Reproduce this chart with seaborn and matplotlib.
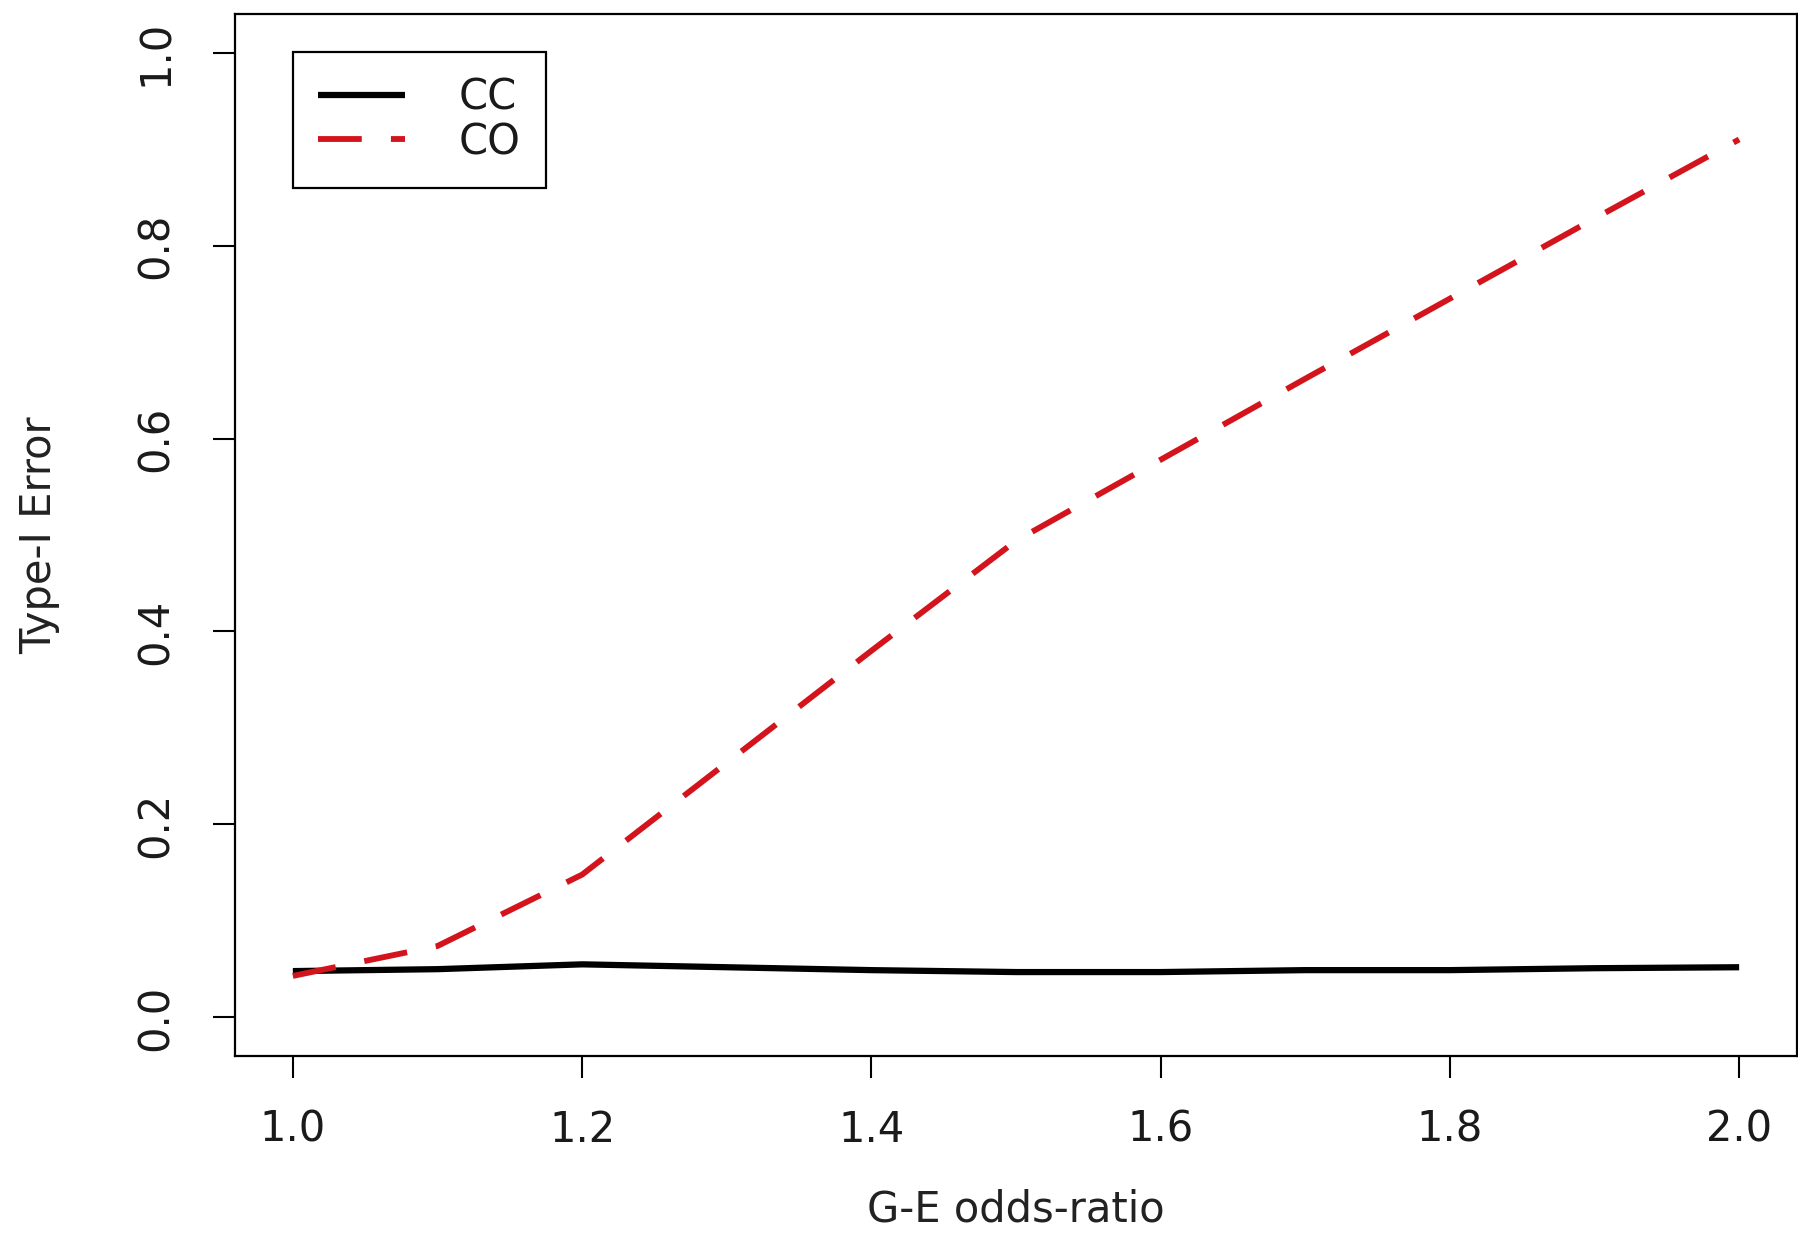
import matplotlib
matplotlib.use("Agg")
import matplotlib.pyplot as plt
import seaborn as sns
import pandas as pd

# ---- data ----
odds_ratio = [1.0, 1.1, 1.2, 1.3, 1.4, 1.5, 1.6, 1.7, 1.8, 1.9, 2.0]
cc_error = [0.048, 0.050, 0.055, 0.052, 0.049, 0.047, 0.047, 0.049, 0.049, 0.051, 0.052]
co_error = [0.043, 0.074, 0.148, 0.264, 0.380, 0.494, 0.578, 0.662, 0.745, 0.828, 0.910]
x_ticks = [1.0, 1.2, 1.4, 1.6, 1.8, 2.0]
y_ticks = [0.0, 0.2, 0.4, 0.6, 0.8, 1.0]
series_names = ["CC", "CO"]

sns.set_style("white")
plt.rcParams["font.family"] = ["DejaVu Sans"]

W, H, DPI = 1799, 1235, 100
fig = plt.figure(figsize=(W / DPI, H / DPI), dpi=DPI)
ax = fig.add_axes([235 / W, (H - 1056) / H, (1797 - 235) / W, (1056 - 14) / H])

df_cc = pd.DataFrame({"x": odds_ratio, "y": cc_error})
df_co = pd.DataFrame({"x": odds_ratio, "y": co_error})

sns.lineplot(data=df_cc, x="x", y="y", ax=ax, color="black", lw=4.5,
             estimator=None, label=series_names[0], solid_capstyle="butt")
sns.lineplot(data=df_co, x="x", y="y", ax=ax, color="#d3141c", lw=4.2,
             estimator=None, label=series_names[1],
             linestyle=(0, (7.5, 5.0)), dash_capstyle="butt")

ax.set_xlim(0.96, 2.04)
ax.set_ylim(-0.04, 1.04)
ax.set_xticks(x_ticks)
ax.set_xticklabels([f"{v:.1f}" for v in x_ticks])
ax.set_yticks(y_ticks)
ax.set_yticklabels([f"{v:.1f}" for v in y_ticks], rotation=90, va="center")

for s in ax.spines.values():
    s.set_visible(True)
    s.set_color("black")
    s.set_linewidth(1.6)

fs = 30
ax.tick_params(axis="both", direction="out", length=16, width=1.5,
               colors="black", labelsize=fs, left=True, bottom=True)
ax.tick_params(axis="x", pad=22)
ax.tick_params(axis="y", pad=26)
for lbl in ax.get_xticklabels() + ax.get_yticklabels():
    lbl.set_color("#1a1a1a")

ax.set_xlabel("G-E odds-ratio", fontsize=fs, color="#222222")
ax.set_ylabel("Type-I Error", fontsize=fs, color="#222222")
ax.xaxis.set_label_coords(0.5, -(1188 - 1056) / 1042)
ax.yaxis.set_label_coords(-(235 - 60) / 1562, 0.5)

leg = ax.legend(loc="upper left", bbox_to_anchor=((293 - 235) / 1562, (1056 - 52) / 1042),
                borderaxespad=0, fontsize=fs, frameon=True, fancybox=False,
                handlelength=2.08, handletextpad=1.3, borderpad=0.6,
                labelspacing=0.05)
leg.get_frame().set_edgecolor("black")
leg.get_frame().set_linewidth(1.6)
leg.get_frame().set_facecolor("white")
leg.get_frame().set_alpha(1)
for t in leg.get_texts():
    t.set_color("#1a1a1a")

fig.savefig("out.png", dpi=DPI, facecolor="white")
